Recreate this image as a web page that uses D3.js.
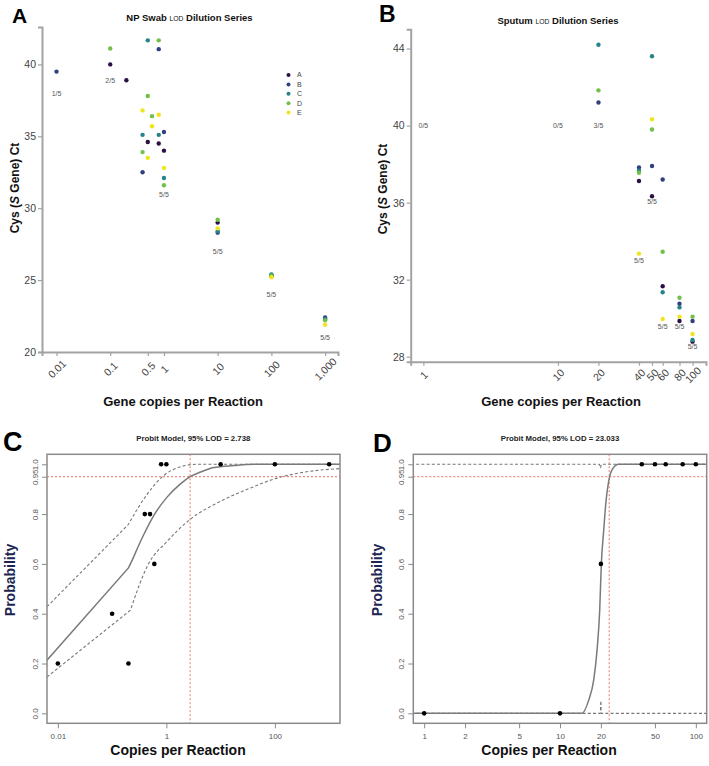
<!DOCTYPE html>
<html><head><meta charset="utf-8">
<script src="https://cdn.jsdelivr.net/npm/d3@7"></script>
<style>body{margin:0;background:#fff} text{font-family:"Liberation Sans",Arial,sans-serif}</style>
</head><body><svg id="c" width="709" height="766"></svg>
<script>
// ---------- shared ----------
const replicates = ["A","B","C","D","E"];
const replicateColors = ["#2b0f45","#31407f","#26838a","#72c04a","#f2e41c"];

// ---------- Panel A : NP swab dilution series ----------
const npCopies = [0.01,0.1,0.2,0.4,0.5,0.6,0.8,1,10,100,1000];
const npA = [null,40.0,38.9,null,34.6,null,34.5,34.0,29.0,25.3,22.3];
const npB = [39.5,null,null,32.5,null,null,41.06,35.3,28.3,25.3,22.4];
const npC = [null,null,null,35.1,41.67,null,35.1,32.1,28.4,25.4,22.3];
const npD = [null,41.1,null,33.9,37.8,36.4,41.67,31.6,29.2,25.3,22.2];
const npE = [null,null,null,36.8,33.5,35.7,36.5,32.8,28.6,25.2,21.9];
const npRatioCopies = [0.01,0.1,1,10,100,1000];
const npRatioCt = [38.0,38.9,30.95,27.0,24.0,21.0];
const npRatioText = ["1/5","2/5","5/5","5/5","5/5","5/5"];
const npXTicks = [0.01,0.1,0.5,1,10,100,1000];
const npXTickLabels = ["0.01","0.1","0.5","1","10","100","1,000"];
const npYTicks = [20,25,30,35,40];

// ---------- Panel B : Sputum dilution series ----------
const spCopies = [1,10,20,40,50,60,80,100];
const spA = [null,null,null,37.12,36.33,31.66,29.85,28.78];
const spB = [null,null,41.2,37.83,37.9,37.2,30.75,29.85];
const spC = [null,null,44.2,37.66,43.6,31.35,30.56,28.87];
const spD = [null,null,41.83,37.55,39.8,33.45,31.06,30.08];
const spE = [null,null,null,33.35,40.33,29.96,30.08,29.18];
const spRatioCopies = [1,10,20,50,40,60,80,100];
const spRatioCt = [40,40,40,36.04,33.0,29.55,29.55,28.55];
const spRatioText = ["0/5","0/5","3/5","5/5","5/5","5/5","5/5","5/5"];
const spXTicks = [1,10,20,40,50,60,80,100];
const spYTicks = [28,32,36,40,44];

// ---------- Panel C : probit NP swab ----------
const probNpX = [0.01,0.1,0.2,0.4,0.5,0.6,0.8,1,10,100,1000];
const probNpP = [0.2,0.4,0.2,0.8,0.8,0.6,1,1,1,1,1];
const fitNpX = [0.0063,0.2,0.237,0.3,0.4,0.585,1.03,1.82,2.738,4.27,7.5,17.6,40,1700];
const fitNpP = [0.213,0.584,0.617,0.668,0.726,0.794,0.868,0.921,0.95,0.969,0.987,0.995,1,1];
const upNpX = [0.0063,0.197,0.44,0.895,1.82,3.7,1700];
const upNpP = [0.428,0.757,0.879,0.955,0.99,1,1];
const loNpX = [0.0063,0.217,0.473,1.03,2.79,8.7,35.8,100,300,1700];
const loNpP = [0.146,0.414,0.602,0.69,0.78,0.845,0.905,0.942,0.966,0.983];
const lodNp = 2.738;
const probNpXTicks = [0.01,1,100];

// ---------- Panel D : probit sputum ----------
const probSpX = [1,10,20,40,50,60,80,100];
const probSpP = [0,0,0.6,1,1,1,1,1];
const fitSpX = [0.8,14.5,16.25,17.7,18.74,19.6,20.15,20.95,21.8,22.8,24.2,27,125];
const fitSpP = [0,0,0.052,0.133,0.254,0.414,0.6,0.73,0.85,0.93,0.978,1,1];
const upSpX = [0.8,19.5,19.85,20.2,125];
const upSpP = [1,1,0.985,1,1];
const loSpX = [0.8,19.8,19.9,20.0,20.1,125];
const loSpP = [0,0,0.03,0.05,0,0];
const lodSp = 23.033;
const probSpXTicks = [1,2,5,10,20,50,100];

const probYTicks = [0,0.2,0.4,0.6,0.8,0.95,1.0];
const probYLabels = ["0.0","0.2","0.4","0.6","0.8","0.95","1.0"];

const svg = d3.select("#c");
const AX = "#a3a3a3", TXT = "#444";

function panelLetter(t,x,y,s){
  svg.append("text").attr("x",x).attr("y",y).attr("font-size",s).attr("font-weight","bold").text(t);
}

// ===== scatter panels =====
function scatterPanel(o){
  const g = svg.append("g");
  const x = d3.scaleLog().domain(o.xd).range(o.xr);
  const y = d3.scaleLinear().domain(o.yd).range(o.yr);
  const ya = g.append("g").attr("transform",`translate(${o.xr[0]},0)`)
    .call(d3.axisLeft(y).tickValues(o.yTicks).tickSizeOuter(0).tickSize(4).tickPadding(2));
  const xa = g.append("g").attr("transform",`translate(0,${o.yr[0]})`)
    .call(d3.axisBottom(x).tickValues(o.xTicks).tickSizeOuter(0).tickSize(4).tickFormat((d,i)=>o.xLabels[i]));
  [ya,xa].forEach(a=>{
    a.select(".domain").attr("stroke",AX).attr("stroke-width",2);
    a.selectAll(".tick line").attr("stroke",AX).attr("stroke-width",1.2);
    a.selectAll("text").attr("fill",TXT).attr("font-size",10.5).attr("font-family","Liberation Sans, Arial, sans-serif");
  });
  xa.selectAll(".tick text").attr("y",0).attr("dy","0.35em").attr("text-anchor","middle")
    .attr("transform",`translate(0,${o.xLabY-o.yr[0]}) rotate(-45)`);
  o.series.forEach((s,k)=>{
    o.copies.forEach((c,i)=>{
      if(s[i]==null) return;
      g.append("circle").attr("cx",x(c)).attr("cy",y(s[i])).attr("r",2.2).attr("fill",replicateColors[k]);
    });
  });
  o.rCopies.forEach((c,i)=>{
    g.append("text").attr("x",x(c)).attr("y",y(o.rCt[i])).attr("dy","0.35em").attr("text-anchor","middle")
      .attr("font-size",7).attr("fill","#555").text(o.rText[i]);
  });
  const t = g.append("text").attr("x",o.titleX).attr("y",o.titleY).attr("text-anchor","middle").attr("font-size",9.5).attr("font-weight","bold").attr("fill","#111");
  t.append("tspan").text(o.title1+" ");
  t.append("tspan").attr("font-size",6.8).attr("font-weight","normal").text("LOD");
  t.append("tspan").text(" Dilution Series");
  const yt = g.append("text").attr("transform",`translate(${o.yTitleX},${o.yTitleY}) rotate(-90)`)
    .attr("text-anchor","middle").attr("font-size",12).attr("font-weight","bold").attr("fill","#111");
  yt.append("tspan").text("Cys (");
  yt.append("tspan").attr("font-style","italic").text("S");
  yt.append("tspan").text(" Gene) Ct");
  g.append("text").attr("x",o.xTitleX).attr("y",401).attr("dy","0.35em").attr("text-anchor","middle")
    .attr("font-size",13).attr("font-weight","bold").attr("fill","#111").text("Gene copies per Reaction");
  return {g,x,y};
}

scatterPanel({
  xd:[Math.pow(10,-2.27),Math.pow(10,3.24)], xr:[42,338], yd:[20,42.6], yr:[352,27],
  yTicks:npYTicks, xTicks:npXTicks, xLabels:npXTickLabels, xLabY:369,
  series:[npA,npB,npC,npD,npE], copies:npCopies,
  rCopies:npRatioCopies, rCt:npRatioCt, rText:npRatioText,
  title1:"NP Swab", titleX:189.5, titleY:21, yTitleX:19, yTitleY:188, xTitleX:183
});
replicates.forEach((r,i)=>{
  const yy = 75 + i*9.4;
  svg.append("circle").attr("cx",288.5).attr("cy",yy).attr("r",2).attr("fill",replicateColors[i]);
  svg.append("text").attr("x",297).attr("y",yy).attr("dy","0.35em").attr("font-size",7).attr("fill","#444").text(r);
});

scatterPanel({
  xd:[Math.pow(10,-0.094),Math.pow(10,2.10)], xr:[410.7,706], yd:[27.74,45], yr:[361.7,29.3],
  yTicks:spYTicks, xTicks:spXTicks, xLabels:spXTicks.map(String), xLabY:375,
  series:[spA,spB,spC,spD,spE], copies:spCopies,
  rCopies:spRatioCopies, rCt:spRatioCt, rText:spRatioText,
  title1:"Sputum", titleX:558, titleY:24, yTitleX:387, yTitleY:189, xTitleX:561
});

panelLetter("A",12,23,21);
panelLetter("B",379,22,23);

// ===== probit panels =====
function probitPanel(o){
  const g = svg.append("g");
  const x = d3.scaleLog().domain(o.xd).range(o.xr);
  const y = d3.scaleLinear().domain([-0.04,1.04]).range([723.3,454.3]);
  const id = "clip"+o.name;
  svg.append("clipPath").attr("id",id).append("rect")
    .attr("x",o.xr[0]).attr("y",454.3).attr("width",o.xr[1]-o.xr[0]).attr("height",269);
  const inner = g.append("g").attr("clip-path",`url(#${id})`);
  const smooth = d3.line().x(d=>x(d[0])).y(d=>y(d[1])).curve(d3.curveMonotoneX);
  const straight = d3.line().x(d=>x(d[0])).y(d=>y(d[1]));
  const zip = (a,b)=>a.map((v,i)=>[v,b[i]]);
  // first segment straight, remaining smooth
  const pathOf = d => o.kink ? straight(d.slice(0,2)) + smooth(d.slice(1)).replace(/^M/,"L") : smooth(d);
  inner.append("line").attr("x1",o.xr[0]).attr("x2",o.xr[1]).attr("y1",y(0.95)).attr("y2",y(0.95))
    .attr("stroke","#f08a80").attr("stroke-width",1.2).attr("stroke-dasharray","2,2");
  inner.append("line").attr("x1",x(o.lod)).attr("x2",x(o.lod)).attr("y1",454.3).attr("y2",723.3)
    .attr("stroke","#f08a80").attr("stroke-width",1.2).attr("stroke-dasharray","2,2");
  [zip(o.upX,o.upP),zip(o.loX,o.loP)].forEach(d=>inner.append("path").attr("d",pathOf(d)).attr("fill","none")
     .attr("stroke","#777").attr("stroke-width",1.1).attr("stroke-dasharray","3,2.2"));
  inner.append("path").attr("d",pathOf(zip(o.fitX,o.fitP))).attr("fill","none").attr("stroke","#7a7a7a").attr("stroke-width",1.5);
  o.px.forEach((v,i)=>g.append("circle").attr("cx",x(v)).attr("cy",y(o.pp[i])).attr("r",2.3).attr("fill","#000"));
  g.append("rect").attr("x",o.xr[0]).attr("y",454.3).attr("width",o.xr[1]-o.xr[0]).attr("height",269)
    .attr("fill","none").attr("stroke","#8a8a8a").attr("stroke-width",1.5);
  const ya = g.append("g").attr("transform",`translate(${o.xr[0]},0)`)
    .call(d3.axisLeft(y).tickValues(probYTicks).tickSize(5).tickSizeOuter(0).tickFormat((d,i)=>probYLabels[i]));
  ya.select(".domain").remove();
  ya.selectAll(".tick line").attr("stroke","#8a8a8a");
  ya.selectAll(".tick text").attr("x",0).attr("dy",null).attr("text-anchor","middle")
    .attr("transform","translate(-9,0) rotate(-90)").attr("font-size",8).attr("fill","#555").attr("font-family","Liberation Sans, Arial, sans-serif");
  const xa = g.append("g").attr("transform","translate(0,723.3)")
    .call(d3.axisBottom(x).tickValues(o.xTicks).tickSize(5).tickSizeOuter(0).tickFormat(o.xFmt));
  xa.select(".domain").remove();
  xa.selectAll(".tick line").attr("stroke","#8a8a8a");
  xa.selectAll(".tick text").attr("y",0).attr("dy","0.35em").attr("transform","translate(0,12.4)")
    .attr("font-size",8).attr("fill","#555").attr("font-family","Liberation Sans, Arial, sans-serif");
  g.append("text").attr("x",o.titleX).attr("y",438.3).attr("dy","0.35em").attr("text-anchor","middle")
    .attr("font-size",7.8).attr("font-weight","bold").attr("fill","#222").text(o.title);
  g.append("text").attr("transform",`translate(${o.yTitleX},580) rotate(-90)`).attr("text-anchor","middle")
    .attr("font-size",14).attr("font-weight","bold").attr("fill","#1c2452").text("Probability");
  g.append("text").attr("x",o.xTitleX).attr("y",750).attr("dy","0.35em").attr("text-anchor","middle")
    .attr("font-size",14).attr("font-weight","bold").attr("fill","#111").text("Copies per Reaction");
}

probitPanel({
  name:"C", kink:true, xd:[Math.pow(10,-2.2),Math.pow(10,3.2)], xr:[47,340],
  fitX:fitNpX, fitP:fitNpP, upX:upNpX, upP:upNpP, loX:loNpX, loP:loNpP, lod:lodNp,
  px:probNpX, pp:probNpP, xTicks:probNpXTicks, xFmt:d=>String(d),
  title:"Probit Model, 95% LOD = 2.738", titleX:193.3, yTitleX:15, xTitleX:178
});
probitPanel({
  name:"D", kink:false, xd:[Math.pow(10,-0.08),Math.pow(10,2.08)], xr:[413.3,706.7],
  fitX:fitSpX, fitP:fitSpP, upX:upSpX, upP:upSpP, loX:loSpX, loP:loSpP, lod:lodSp,
  px:probSpX, pp:probSpP, xTicks:probSpXTicks, xFmt:d=>String(d),
  title:"Probit Model, 95% LOD = 23.033", titleX:560, yTitleX:382, xTitleX:549
});

panelLetter("C",3,451,27);
panelLetter("D",373,452,26);
</script></body></html>
